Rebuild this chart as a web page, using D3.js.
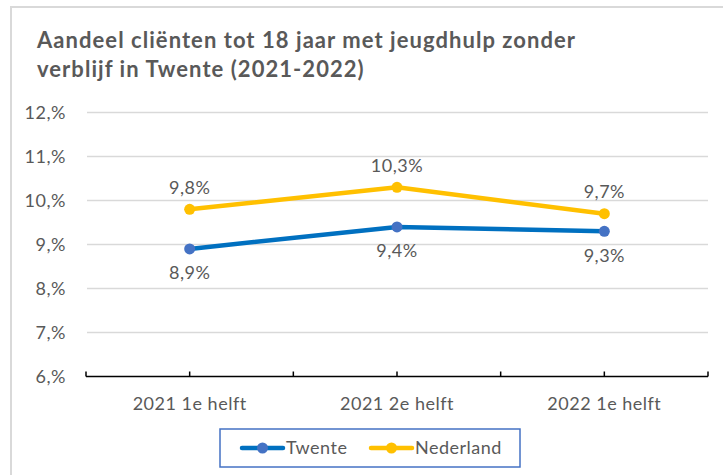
<!DOCTYPE html>
<html>
<head>
<meta charset="utf-8">
<script src="https://cdn.jsdelivr.net/npm/d3@7"></script>
<style>
  html, body { margin: 0; padding: 0; background: #fff; }
  svg { display: block; font-family: Lato, "Open Sans", sans-serif; }
  .lbl { letter-spacing: 0.5px; }
</style>
</head>
<body>
<svg id="chart" width="723" height="475"></svg>
<script>
// Periods on the horizontal axis
const periods = ["2021 1e helft", "2021 2e helft", "2022 1e helft"];
// Share of clients under 18 with youth care without residence (%)
const twente = [8.9, 9.4, 9.3];
const nederland = [9.8, 10.3, 9.7];
// Vertical axis ticks and their labels
const yTicks = [6, 7, 8, 9, 10, 11, 12];
const yTickLabels = ["6,%", "7,%", "8,%", "9,%", "10,%", "11,%", "12,%"];
const seriesNames = ["Twente", "Nederland"];

const titleLines = [
  "Aandeel cliënten tot 18 jaar met jeugdhulp zonder",
  "verblijf in Twente (2021-2022)"
];

const fmt = v => v.toFixed(1).replace(".", ",") + "%";

const svg = d3.select("#chart");
const textColor = "#595959";
const gridColor = "#d9d9d9";
const colors = {
  Twente: { line: "#0070C0", marker: "#4472C4" },
  Nederland: { line: "#FFC000", marker: "#FFC000" }
};

// Chart frame
svg.append("rect")
  .attr("x", 11).attr("y", 7)
  .attr("width", 730).attr("height", 480)
  .attr("fill", "#fff")
  .attr("stroke", gridColor)
  .attr("stroke-width", 2);

// Title: spread the first line to its full width, same spacing for the second
const title = svg.append("g").selectAll("text")
  .data(titleLines)
  .join("text")
  .attr("x", 37)
  .attr("y", (d, i) => 48 + i * 29)
  .attr("fill", textColor)
  .attr("font-weight", 700)
  .attr("font-size", 22)
  .text(d => d);
const firstLine = title.nodes()[0];
const natural = firstLine.getComputedTextLength();
const spacing = Math.max(0, (538 - natural) / (titleLines[0].length - 1));
title.attr("letter-spacing", spacing);

const x = d3.scalePoint().domain(periods).range([86, 708]).padding(0.5);
const y = d3.scaleLinear().domain([6, 12]).range([376.5, 112.5]);

// Gridlines
svg.append("g").selectAll("line")
  .data(yTicks.filter(t => t > 6))
  .join("line")
  .attr("x1", 87).attr("x2", 708)
  .attr("y1", d => y(d)).attr("y2", d => y(d))
  .attr("stroke", gridColor)
  .attr("stroke-width", 1.5);

// Y axis labels
const yAxis = d3.axisLeft(y)
  .tickValues(yTicks)
  .tickFormat((d, i) => yTickLabels[i])
  .tickSize(0)
  .tickPadding(0);
const gy = svg.append("g").attr("transform", "translate(66,0)").call(yAxis);
gy.select(".domain").remove();
gy.selectAll("text")
  .attr("class", "lbl")
  .attr("fill", textColor)
  .attr("font-size", 18)
  .attr("font-family", "Lato, 'Open Sans', sans-serif");

// X axis: line, ticks at category boundaries and centers
const step = x.step();
const tickPositions = [];
periods.forEach(p => { tickPositions.push(x(p) - step / 2, x(p)); });
tickPositions.push(x(periods[periods.length - 1]) + step / 2);

const gx = svg.append("g");
gx.append("line")
  .attr("x1", 86).attr("x2", 708)
  .attr("y1", y(6)).attr("y2", y(6))
  .attr("stroke", "#000").attr("stroke-width", 1.5);
gx.selectAll("line.tick")
  .data(tickPositions)
  .join("line")
  .attr("class", "tick")
  .attr("x1", d => d).attr("x2", d => d)
  .attr("y1", y(6)).attr("y2", y(6) - 5)
  .attr("stroke", "#000").attr("stroke-width", 1.5);
gx.selectAll("text")
  .data(periods)
  .join("text")
  .attr("class", "lbl")
  .attr("x", d => x(d))
  .attr("y", 410)
  .attr("text-anchor", "middle")
  .attr("fill", textColor)
  .attr("font-size", 18)
  .text(d => d);

// Series
const series = [
  { name: "Twente", values: twente, labelOffset: 24 },
  { name: "Nederland", values: nederland, labelOffset: -22 }
];
const line = d3.line().x((d, i) => x(periods[i])).y(d => y(d));

series.forEach(s => {
  const g = svg.append("g");
  g.append("path")
    .attr("d", line(s.values))
    .attr("fill", "none")
    .attr("stroke", colors[s.name].line)
    .attr("stroke-width", 4.5)
    .attr("stroke-linejoin", "round")
    .attr("stroke-linecap", "round");
  g.selectAll("circle")
    .data(s.values)
    .join("circle")
    .attr("cx", (d, i) => x(periods[i]))
    .attr("cy", d => y(d))
    .attr("r", 5.5)
    .attr("fill", colors[s.name].marker);
  g.selectAll("text")
    .data(s.values)
    .join("text")
    .attr("class", "lbl")
    .attr("x", (d, i) => x(periods[i]))
    .attr("y", d => y(d) + s.labelOffset)
    .attr("dy", "0.36em")
    .attr("text-anchor", "middle")
    .attr("fill", textColor)
    .attr("font-size", 18)
    .text(d => fmt(d));
});

// Legend
const legend = svg.append("g");
legend.append("rect")
  .attr("x", 220).attr("y", 429)
  .attr("width", 300).attr("height", 38)
  .attr("fill", "#fff")
  .attr("stroke", "#4472C4")
  .attr("stroke-width", 1.5);
const legendItems = [
  { name: seriesNames[0], x0: 242, tx: 286 },
  { name: seriesNames[1], x0: 371, tx: 415 }
];
legendItems.forEach(it => {
  legend.append("line")
    .attr("x1", it.x0).attr("x2", it.x0 + 41)
    .attr("y1", 448).attr("y2", 448)
    .attr("stroke", colors[it.name].line)
    .attr("stroke-width", 4.5)
    .attr("stroke-linecap", "round");
  legend.append("circle")
    .attr("cx", it.x0 + 20.5).attr("cy", 448).attr("r", 5.5)
    .attr("fill", colors[it.name].marker);
  legend.append("text")
    .attr("class", "lbl")
    .attr("x", it.tx).attr("y", 448)
    .attr("dy", "0.36em")
    .attr("fill", textColor)
    .attr("font-size", 18)
    .text(it.name);
});
</script>
</body>
</html>
